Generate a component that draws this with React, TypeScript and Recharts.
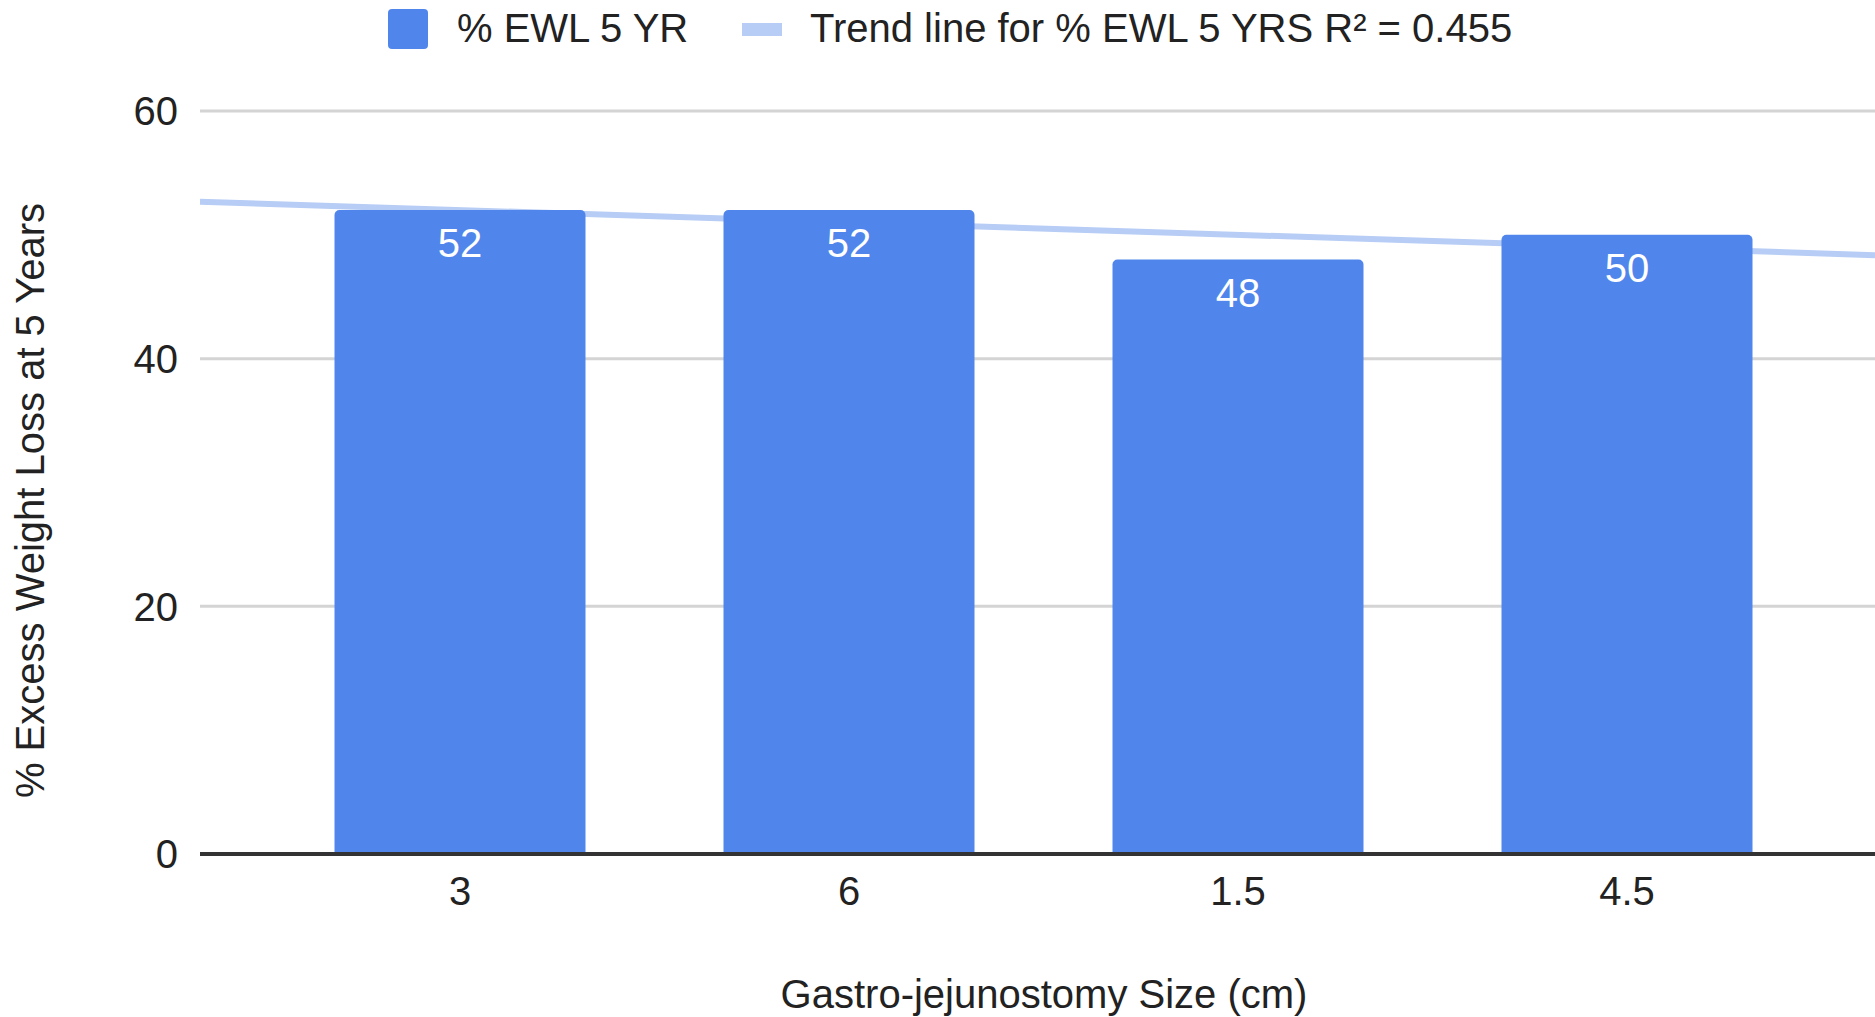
import {
  ComposedChart,
  Bar,
  Line,
  XAxis,
  YAxis,
  CartesianGrid,
  LabelList,
  Label
} from "recharts";

const sizes = ["3", "6", "1.5", "4.5"];
const ewl5yr = [52, 52, 48, 50];
const yTicks = [0, 20, 40, 60];

// visible span of the trend line, in category-index units (1 = first bar)
const trendSpan = [0.33, 4.64];

const BAR_BLUE = "#5086ec";
const TREND_BLUE = "#b7cdf5";
const FONT = "'Liberation Sans', Arial, sans-serif";
const FS = 40;

const chartData = sizes.map((s, i) => ({ size: s, ewl: ewl5yr[i] }));

// least squares fit of value against category index
const idx = ewl5yr.map((_, i) => i + 1);
const mx = idx.reduce((a, b) => a + b, 0) / idx.length;
const my = ewl5yr.reduce((a, b) => a + b, 0) / ewl5yr.length;
const slope =
  idx.reduce((s, x, i) => s + (x - mx) * (ewl5yr[i] - my), 0) /
  idx.reduce((s, x) => s + (x - mx) * (x - mx), 0);
const trendData = trendSpan.map((x) => ({ x, y: my + slope * (x - mx) }));

const legendText: React.CSSProperties = {
  position: "absolute",
  top: 6,
  lineHeight: "44px",
  fontSize: FS,
  color: "#222",
  whiteSpace: "nowrap"
};

export default function App() {
  return (
    <div
      style={{
        position: "absolute",
        left: 0,
        top: 0,
        width: 1875,
        height: 1017,
        background: "#fff",
        fontFamily: FONT,
        overflow: "hidden"
      }}
    >
      {/* legend */}
      <div style={{ position: "absolute", left: 388, top: 9, width: 40, height: 40, borderRadius: 4, background: BAR_BLUE }} />
      <div style={{ ...legendText, left: 457 }}>% EWL 5 YR</div>
      <div style={{ position: "absolute", left: 742, top: 23, width: 40, height: 13, background: TREND_BLUE }} />
      <div style={{ ...legendText, left: 810 }}>Trend line for % EWL 5 YRS R² = 0.455</div>

      <ComposedChart
        width={1875}
        height={1017}
        data={chartData}
        margin={{ top: 111, right: 0, left: 0, bottom: 0 }}
      >
        <CartesianGrid
          xAxisId="cat"
          vertical={false}
          stroke="#d4d4d4"
          strokeWidth={3}
        />
        <XAxis
          xAxisId="cat"
          dataKey="size"
          height={163}
          padding={{ left: 65.5, right: 53.5 }}
          tickLine={false}
          tickSize={0}
          tickMargin={23}
          axisLine={{ stroke: "#333", strokeWidth: 4 }}
          tick={{ fill: "#222", fontSize: FS, fontFamily: FONT }}
        >
          <Label
            content={({ viewBox }: any) => (
              <text
                x={viewBox.x + 844}
                y={1008}
                textAnchor="middle"
                fill="#222"
                fontSize={FS}
                fontFamily={FONT}
              >
                Gastro-jejunostomy Size (cm)
              </text>
            )}
          />
        </XAxis>
        <XAxis
          xAxisId="trend"
          type="number"
          dataKey="x"
          domain={trendSpan}
          allowDataOverflow
          hide
        />
        <YAxis
          width={200}
          domain={[0, 60]}
          ticks={yTicks}
          axisLine={false}
          tickLine={false}
          tickSize={0}
          tickMargin={22}
          tick={{ fill: "#222", fontSize: FS, fontFamily: FONT }}
        >
          <Label
            content={({ viewBox }: any) => {
              const cx = viewBox.x + 44;
              const cy = viewBox.y + viewBox.height / 2 + 18;
              return (
                <text
                  x={cx}
                  y={cy}
                  transform={`rotate(-90 ${cx} ${cy})`}
                  textAnchor="middle"
                  fill="#222"
                  fontSize={FS}
                  fontFamily={FONT}
                >
                  % Excess Weight Loss at 5 Years
                </text>
              );
            }}
          />
        </YAxis>
        <Line
          xAxisId="trend"
          data={trendData}
          dataKey="y"
          stroke={TREND_BLUE}
          strokeWidth={6}
          dot={false}
          activeDot={false}
          zIndex={100}
          isAnimationActive={false}
        />
        <Bar
          xAxisId="cat"
          dataKey="ewl"
          fill={BAR_BLUE}
          barSize={251}
          radius={[5, 5, 0, 0]}
          isAnimationActive={false}
        >
          <LabelList
            dataKey="ewl"
            position="insideTop"
            offset={19}
            fill="#fff"
            fontSize={FS}
            fontFamily={FONT}
          />
        </Bar>
      </ComposedChart>
    </div>
  );
}
